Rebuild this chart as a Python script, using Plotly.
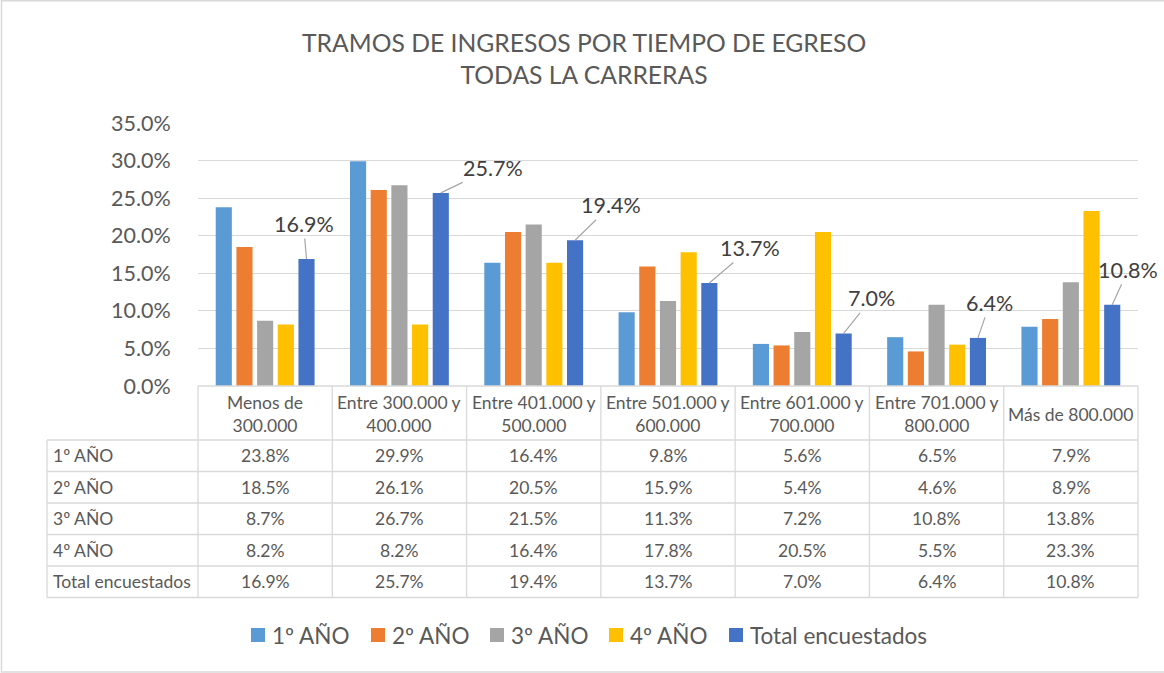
import plotly.graph_objects as go

categories = ["Menos de<br>300.000", "Entre 300.000 y<br>400.000", "Entre 401.000 y<br>500.000",
              "Entre 501.000 y<br>600.000", "Entre 601.000 y<br>700.000", "Entre 701.000 y<br>800.000",
              "Más de 800.000"]
series_names = ["1º AÑO", "2º AÑO", "3º AÑO", "4º AÑO", "Total encuestados"]
anio1 = [23.8, 29.9, 16.4, 9.8, 5.6, 6.5, 7.9]
anio2 = [18.5, 26.1, 20.5, 15.9, 5.4, 4.6, 8.9]
anio3 = [8.7, 26.7, 21.5, 11.3, 7.2, 10.8, 13.8]
anio4 = [8.2, 8.2, 16.4, 17.8, 20.5, 5.5, 23.3]
total = [16.9, 25.7, 19.4, 13.7, 7.0, 6.4, 10.8]
series_values = [anio1, anio2, anio3, anio4, total]
colors = ["#5B9BD5", "#ED7D31", "#A5A5A5", "#FFC000", "#4472C4"]
y_ticks = [0, 5, 10, 15, 20, 25, 30, 35]

FONT = "Lato"
TXT = "#595959"
GRID = "#D9D9D9"

W, H = 1164, 673
L, R, T, B = 198, 1138, 123, 386


def px(x):
    return (x - L) / (R - L)


def py(y):
    return (B - y) / (B - T)


fig = go.Figure()
x_idx = list(range(len(categories)))
for name, vals, c in zip(series_names, series_values, colors):
    fig.add_trace(go.Bar(x=x_idx, y=vals, name=name, marker=dict(color=c, line=dict(width=0)),
                         hoverinfo="skip", showlegend=False))

BARGAP = 0.23
n = len(series_names)
tot_off = ((n - 0.5) / n - 0.5) * (1 - BARGAP)

shapes = []
annotations = []

# Title
annotations.append(dict(text="TRAMOS DE INGRESOS POR TIEMPO DE EGRESO<br>TODAS LA CARRERAS",
                        xref="paper", yref="paper", x=px(584), y=py(58), xanchor="center",
                        yanchor="middle", showarrow=False,
                        font=dict(family=FONT, size=24.7, color=TXT)))

# Data labels for Total with leader lines
label_offsets = [(-3, -35), (52, -25), (36, -35), (41, -35), (28, -35), (12, -35), (16, -35)]
for i, v in enumerate(total):
    ax, ay = label_offsets[i]
    annotations.append(dict(text=f"{v:.1f}%", x=i + tot_off, y=v, xref="x", yref="y",
                            ax=ax, ay=ay, showarrow=True, arrowhead=0, arrowwidth=1.2,
                            arrowcolor="#A6A6A6", standoff=0,
                            font=dict(family=FONT, size=21.5, color="#404040")))

# Table geometry
col_x = [L + (R - L) * k / len(categories) for k in range(len(categories) + 1)]
table_left = 47
row_y = [386, 440, 471.5, 503, 534.5, 566, 597.5]
line = dict(color=GRID, width=1.3)
shapes.append(dict(type="line", xref="paper", yref="paper", x0=px(L), x1=px(R),
                   y0=py(row_y[0]), y1=py(row_y[0]), line=line))
for yy in row_y[1:]:
    shapes.append(dict(type="line", xref="paper", yref="paper", x0=px(table_left), x1=px(R),
                       y0=py(yy), y1=py(yy), line=line))
shapes.append(dict(type="line", xref="paper", yref="paper", x0=px(table_left), x1=px(table_left),
                   y0=py(row_y[1]), y1=py(row_y[-1]), line=line))
for xx in col_x:
    shapes.append(dict(type="line", xref="paper", yref="paper", x0=px(xx), x1=px(xx),
                       y0=py(row_y[0]), y1=py(row_y[-1]), line=line))

TFS = 17.5
for k, cat in enumerate(categories):
    cx = (col_x[k] + col_x[k + 1]) / 2
    annotations.append(dict(text=cat, xref="paper", yref="paper", x=px(cx),
                            y=py((row_y[0] + row_y[1]) / 2 + 1), xanchor="center", yanchor="middle",
                            showarrow=False, font=dict(family=FONT, size=TFS, color=TXT)))
for r, (name, vals) in enumerate(zip(series_names, series_values)):
    cy = (row_y[r + 1] + row_y[r + 2]) / 2
    annotations.append(dict(text=name, xref="paper", yref="paper", x=px(51), y=py(cy),
                            xanchor="left", yanchor="middle", showarrow=False,
                            font=dict(family=FONT, size=TFS, color=TXT)))
    for k, v in enumerate(vals):
        cx = (col_x[k] + col_x[k + 1]) / 2
        annotations.append(dict(text=f"{v:.1f}%", xref="paper", yref="paper", x=px(cx), y=py(cy),
                                xanchor="center", yanchor="middle", showarrow=False,
                                font=dict(family=FONT, size=TFS, color=TXT)))

# Custom legend
legend_swatch_x = [251, 371, 490, 609, 729]
LEG_Y = 635
for name, c, sx in zip(series_names, colors, legend_swatch_x):
    shapes.append(dict(type="rect", xref="paper", yref="paper", x0=px(sx), x1=px(sx + 14),
                       y0=py(LEG_Y - 7), y1=py(LEG_Y + 7), fillcolor=c, line=dict(width=0)))
    annotations.append(dict(text=name, xref="paper", yref="paper", x=px(sx + 19), y=py(LEG_Y),
                            xanchor="left", yanchor="middle", showarrow=False,
                            font=dict(family=FONT, size=22.5, color=TXT)))

# chart border
shapes.append(dict(type="rect", xref="paper", yref="paper", x0=px(1.5), x1=px(1175),
                   y0=py(0.8), y1=py(672), line=dict(color=GRID, width=1.5)))

fig.update_layout(
    width=W, height=H,
    margin=dict(l=L, r=W - R, t=T, b=H - B, pad=0),
    paper_bgcolor="white", plot_bgcolor="white",
    barmode="group", bargap=BARGAP, bargroupgap=0.22,
    showlegend=False,
    xaxis=dict(range=[-0.5, len(categories) - 0.5], showticklabels=False, showgrid=False,
               zeroline=False, showline=False, ticks="", fixedrange=True),
    yaxis=dict(range=[0, 35], tickvals=y_ticks, ticktext=[f"{t:.1f}%" for t in y_ticks],
               showgrid=True, gridcolor=GRID, gridwidth=1.3, zeroline=False, showline=False,
               ticks="outside", ticklen=22, tickcolor="rgba(0,0,0,0)",
               tickfont=dict(family=FONT, size=21.5, color=TXT), fixedrange=True),
    shapes=shapes, annotations=annotations,
    font=dict(family=FONT, color=TXT),
)

fig.write_html("out.html", config={"displayModeBar": False},
               post_script="document.body.style.margin='0px';document.body.style.overflow='hidden';")
